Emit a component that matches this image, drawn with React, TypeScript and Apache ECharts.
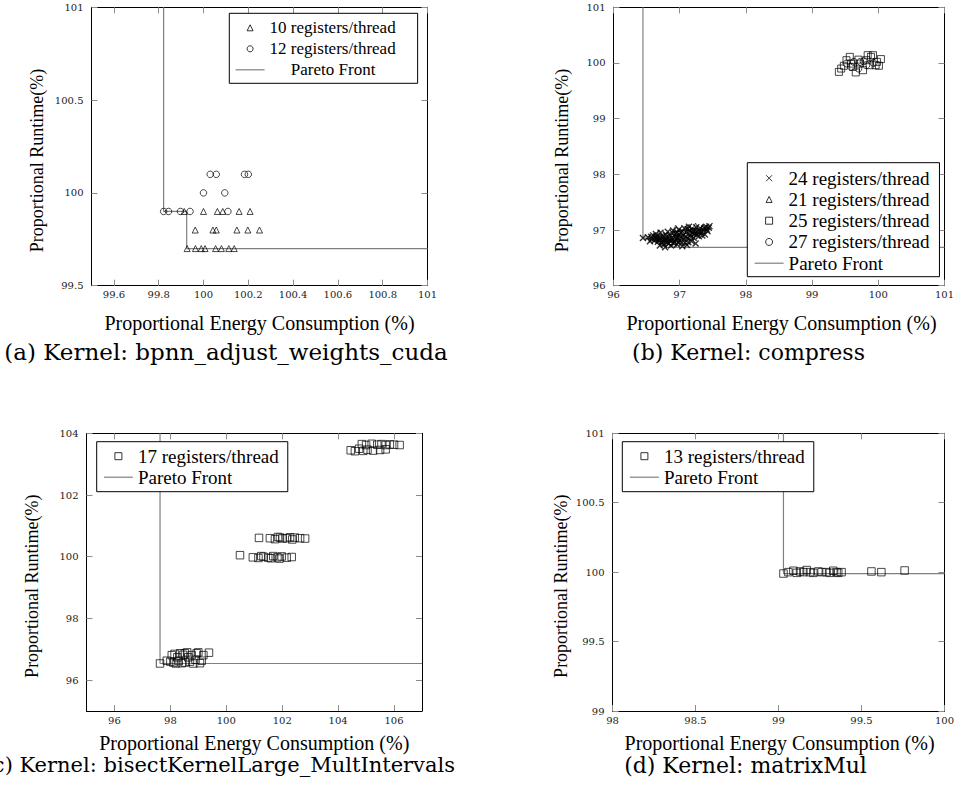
import React, { useEffect, useRef } from 'react';
import * as echarts from 'echarts';

const SERIF = '"Liberation Serif", "Times New Roman", serif';
const CM = '"DejaVu Serif", serif';
const PARETO = 'Pareto Front';
const X_TITLE = 'Proportional Energy Consumption (%)';
const Y_TITLE = 'Proportional Runtime(%)';
const CROSS = 'path://M0 0L10 10M10 0L0 10';

// ---------- (a) bpnn_adjust_weights_cuda ----------
const aXTicks = [99.6, 99.8, 100, 100.2, 100.4, 100.6, 100.8, 101];
const aYTicks = [99.5, 100, 100.5, 101];
const aReg10: number[][] = [
  [99.914, 99.9], [100.0, 99.9], [100.062, 99.9], [100.086, 99.9], [100.159, 99.9], [100.208, 99.9],
  [99.963, 99.8], [100.042, 99.8], [100.057, 99.8], [100.149, 99.8], [100.198, 99.8], [100.25, 99.8],
  [99.927, 99.7], [99.964, 99.7], [99.99, 99.7], [100.007, 99.7], [100.054, 99.7], [100.08, 99.7], [100.113, 99.7], [100.137, 99.7],
];
const aReg12: number[][] = [
  [100.03, 100.1], [100.057, 100.1], [100.183, 100.1], [100.2, 100.1],
  [100.0, 100.0], [100.095, 100.0],
  [99.822, 99.9], [99.844, 99.9], [99.897, 99.9], [99.94, 99.9], [100.109, 99.9],
];
const aPareto: number[][] = [[99.822, 101], [99.822, 99.9], [99.925, 99.9], [99.925, 99.7], [101, 99.7]];

// ---------- (b) compress ----------
const bXTicks = [96, 97, 98, 99, 100, 101];
const bYTicks = [96, 97, 98, 99, 100, 101];
const bReg24: number[][] = [
  [96.445, 96.856], [96.55, 96.8], [96.52, 96.87], [96.58, 96.84], [96.6, 96.9], [96.62, 96.81],
  [96.64, 96.93], [96.66, 96.85], [96.68, 96.82], [96.7, 96.72], [96.71, 96.95], [96.73, 96.78],
  [96.74, 96.88], [96.76, 96.74], [96.78, 96.69], [96.79, 96.92], [96.8, 96.83], [96.82, 96.97],
  [96.83, 96.76], [96.85, 96.9], [96.87, 96.72], [96.88, 96.86], [96.9, 96.99], [96.92, 96.79],
  [96.94, 96.93], [96.96, 96.74], [96.97, 96.87], [96.99, 97.01], [97.0, 96.81], [97.02, 96.95],
  [97.04, 96.71], [97.05, 96.9], [97.07, 97.03], [97.08, 96.77], [97.1, 96.96], [97.12, 96.85],
  [97.14, 97.06], [97.16, 96.91], [97.18, 96.8], [97.2, 97.0], [97.22, 96.93], [97.24, 96.76],
  [97.25, 97.05], [97.27, 96.97], [97.29, 96.89], [97.31, 97.03], [97.33, 96.95], [97.36, 97.0],
  [97.38, 96.92], [97.4, 97.06], [97.42, 96.98], [97.44, 97.04], [97.45, 97.07], [96.86, 96.8],
  [96.95, 96.84], [97.06, 96.84], [97.13, 96.78], [96.65, 96.89], [96.77, 96.81], [96.91, 96.76],
  [97.03, 96.77], [97.11, 96.73], [97.21, 96.86], [97.34, 96.9], [96.69, 96.86], [96.81, 96.78],
  [96.57, 96.88], [96.63, 96.86], [96.67, 96.79], [96.72, 96.84], [96.75, 96.8], [96.78, 96.86],
  [96.84, 96.84], [96.89, 96.82], [96.93, 96.88], [96.98, 96.78], [97.01, 96.88], [97.04, 96.98],
  [97.09, 96.88], [97.15, 96.99], [97.17, 96.87], [97.23, 96.99], [97.26, 96.91], [97.3, 96.98],
  [97.37, 97.03], [97.41, 97.01], [96.9, 96.94], [96.96, 96.96], [97.12, 97.02], [97.19, 96.95],
];
const bReg21: number[][] = [
  [96.69, 96.95], [96.84, 96.88], [96.94, 97.03], [97.01, 96.95], [97.09, 96.91], [97.14, 97.05],
  [97.24, 97.07], [97.29, 96.97], [96.96, 96.85], [96.87, 96.79], [96.76, 96.9], [97.18, 96.98],
  [97.35, 97.05],
];
const bReg25: number[][] = [
  [99.405, 99.84], [99.44, 99.9], [99.48, 99.95], [99.52, 100.05], [99.57, 100.11], [99.59, 99.99],
  [99.62, 99.93], [99.66, 99.83], [99.72, 99.99], [99.77, 99.87], [99.82, 100.05], [99.84, 100.14],
  [99.87, 99.96], [99.89, 100.11], [99.92, 100.14], [99.96, 99.96], [100.01, 99.95], [100.04, 100.07],
  [99.7, 100.06], [99.98, 100.02],
];
const bReg27: number[][] = [
  [99.52, 99.99], [99.59, 99.93], [99.63, 100.02], [99.7, 99.9], [99.73, 100.02], [99.82, 99.96],
  [99.93, 100.0], [99.78, 100.03],
];
const bPareto: number[][] = [
  [96.445, 101], [96.445, 96.856], [96.55, 96.856], [96.55, 96.8], [96.7, 96.8], [96.7, 96.72],
  [96.78, 96.72], [96.78, 96.69], [101, 96.69],
];

// ---------- (c) bisectKernelLarge_MultIntervals ----------
const cXTicks = [96, 98, 100, 102, 104, 106];
const cYTicks = [96, 98, 100, 102, 104];
const cReg17: number[][] = [
  [97.63, 96.54], [97.87, 96.63], [98.05, 96.81], [98.11, 96.57], [98.2, 96.54], [98.25, 96.74],
  [98.35, 96.87], [98.41, 96.55], [98.52, 96.57], [98.52, 96.87], [98.64, 96.74], [98.76, 96.81],
  [98.82, 96.54], [98.94, 96.87], [99.06, 96.55], [99.12, 96.63], [99.18, 96.81], [99.38, 96.89],
  [98.0, 96.6], [98.3, 96.62], [98.7, 96.6], [98.9, 96.66], [99.0, 96.9], [98.15, 96.85],
  [98.45, 96.82], [98.6, 96.9],
  [101.17, 100.61], [101.56, 100.6], [101.74, 100.57], [101.92, 100.62], [102.01, 100.59], [102.16, 100.6],
  [102.36, 100.56], [102.45, 100.62], [102.64, 100.6], [102.82, 100.59], [101.85, 100.64], [102.28, 100.63],
  [100.49, 100.05], [100.95, 99.98], [101.15, 99.96], [101.33, 100.0], [101.5, 99.97], [101.68, 100.02],
  [101.83, 99.98], [101.98, 100.01], [102.16, 99.97], [102.34, 99.99], [101.25, 100.02], [101.6, 99.95],
  [101.9, 99.94],
  [104.45, 103.45], [104.6, 103.42], [104.75, 103.5], [104.85, 103.65], [104.9, 103.43], [105.0, 103.62],
  [105.05, 103.47], [105.2, 103.66], [105.25, 103.44], [105.4, 103.63], [105.5, 103.46], [105.55, 103.65],
  [105.7, 103.62], [105.7, 103.48], [105.85, 103.64], [106.0, 103.63], [106.2, 103.62],
];
const cPareto: number[][] = [[97.63, 104], [97.63, 96.54], [107, 96.54]];

// ---------- (d) matrixMul ----------
const dXTicks = [98, 98.5, 99, 99.5, 100];
const dYTicks = [99, 99.5, 100, 100.5, 101];
const dReg13: number[][] = [
  [99.03, 99.99], [99.06, 100.0], [99.09, 100.01], [99.11, 99.995], [99.13, 100.005], [99.15, 100.0],
  [99.17, 100.015], [99.19, 100.0], [99.21, 99.995], [99.24, 100.005], [99.26, 100.0], [99.29, 100.0],
  [99.31, 99.995], [99.33, 100.01], [99.35, 100.0], [99.36, 99.995], [99.38, 100.0], [99.56, 100.005],
  [99.62, 100.0], [99.76, 100.012],
];
const dPareto: number[][] = [[99.03, 101], [99.03, 99.99], [100, 99.99]];

// legend icon paths: drawn inside a 29 x h box so that they keep their own size
const IW = 29;
function iconFor(kind: string, h: number, s: number): string {
  const cx = IW / 2;
  const cy = h / 2;
  const r = s / 2;
  const box = `M0 0M${IW} ${h}`;
  if (kind === 'triangle') return `path://${box}M${cx - r} ${cy + r}L${cx} ${cy - r}L${cx + r} ${cy + r}Z`;
  if (kind === 'rect') return `path://${box}M${cx - r} ${cy - r}L${cx + r} ${cy - r}L${cx + r} ${cy + r}L${cx - r} ${cy + r}Z`;
  if (kind === 'cross') return `path://${box}M${cx - r} ${cy - r}L${cx + r} ${cy + r}M${cx + r} ${cy - r}L${cx - r} ${cy + r}`;
  return 'circle';
}

type Sc = { name: string; data: number[][]; symbol: string; kind: string; size: number; bw: number };
type Panel = {
  rect: { left: number; top: number; width: number; height: number };
  x: [number, number, number[]];
  y: [number, number, number[]];
  yTitleX: number;
  xTitleY: number;
  scatters: Sc[];
  pareto: number[][];
  legend: any;
  caption: { text: string; x: number; y: number; align: string; size: number };
};

const panels: Panel[] = [
  {
    rect: { left: 91.5, top: 7.3, width: 336, height: 278.4 },
    x: [99.5, 101, aXTicks], y: [99.5, 101, aYTicks], yTitleX: 37, xTitleY: 323,
    scatters: [
      { name: '10 registers/thread', data: aReg10, symbol: 'triangle', kind: 'triangle', size: 6, bw: 0.9 },
      { name: '12 registers/thread', data: aReg12, symbol: 'circle', kind: 'circle', size: 6.5, bw: 0.9 },
    ],
    pareto: aPareto,
    legend: { left: 229.3, top: 13.3, padding: [6, 22, 5, 5.7], itemHeight: 6, itemGap: 4, fontSize: 17, centerPareto: true },
    caption: { text: '(a) Kernel: bpnn_adjust_weights_cuda', x: 226, y: 352, align: 'center', size: 23 },
  },
  {
    rect: { left: 613.5, top: 7.3, width: 336, height: 278.4 },
    x: [96, 101, bXTicks], y: [96, 101, bYTicks], yTitleX: 562, xTitleY: 323,
    scatters: [
      { name: '24 registers/thread', data: bReg24, symbol: CROSS, kind: 'cross', size: 6, bw: 1.4 },
      { name: '21 registers/thread', data: bReg21, symbol: 'triangle', kind: 'triangle', size: 6, bw: 0.9 },
      { name: '25 registers/thread', data: bReg25, symbol: 'rect', kind: 'rect', size: 7, bw: 0.9 },
      { name: '27 registers/thread', data: bReg27, symbol: 'circle', kind: 'circle', size: 7, bw: 0.9 },
    ],
    pareto: bPareto,
    legend: { left: 747.3, top: 162.7, padding: [6, 10, 4, 6.7], itemHeight: 7, itemGap: 2.25, fontSize: 19 },
    caption: { text: '(b) Kernel: compress', x: 748.5, y: 352, align: 'center', size: 22 },
  },
  {
    rect: { left: 86.5, top: 433.3, width: 335.5, height: 277.7 },
    x: [95, 107, cXTicks], y: [95, 104, cYTicks], yTitleX: 32, xTitleY: 743,
    scatters: [{ name: '17 registers/thread', data: cReg17, symbol: 'rect', kind: 'rect', size: 7.5, bw: 0.9 }],
    pareto: cPareto,
    legend: { left: 96.7, top: 441.7, padding: [5, 9, 5, 6.6], itemHeight: 7, itemGap: 2, fontSize: 19 },
    caption: { text: '(c) Kernel: bisectKernelLarge_MultIntervals', x: 455, y: 765, align: 'right', size: 21 },
  },
  {
    rect: { left: 612.5, top: 433.3, width: 334.2, height: 277.7 },
    x: [98, 100, dXTicks], y: [99, 101, dYTicks], yTitleX: 561, xTitleY: 743,
    scatters: [{ name: '13 registers/thread', data: dReg13, symbol: 'rect', kind: 'rect', size: 7.5, bw: 0.9 }],
    pareto: dPareto,
    legend: { left: 622.3, top: 441.7, padding: [5, 9, 5, 7], itemHeight: 7, itemGap: 2, fontSize: 19 },
    caption: { text: '(d) Kernel: matrixMul', x: 745.5, y: 765, align: 'center', size: 22 },
  },
];

function axisCommon(gridIndex: number, min: number, max: number, ticks: number[], position: string, labels: boolean) {
  return {
    type: 'value',
    gridIndex,
    min,
    max,
    position,
    axisLine: { show: true, onZero: false, lineStyle: { color: '#000', width: 1 } },
    axisTick: { show: true, inside: true, length: 6, lineStyle: { color: '#8c8c8c', width: 1 }, customValues: ticks },
    axisLabel: {
      show: labels,
      customValues: ticks,
      fontFamily: CM,
      fontSize: 10,
      color: '#222',
      margin: position === 'bottom' ? 4 : 8,
    },
    splitLine: { show: false },
  };
}

function textEl(text: string, x: number, y: number, font: string, size: number, align: string, rotation = 0) {
  return {
    type: 'text',
    x,
    y,
    rotation,
    silent: true,
    style: {
      text,
      fontFamily: font,
      fontSize: size,
      fill: '#000',
      align,
      textAlign: align,
      verticalAlign: 'middle',
      textVerticalAlign: 'middle',
    },
  };
}

function buildOption() {
  const grid: any[] = [];
  const xAxis: any[] = [];
  const yAxis: any[] = [];
  const series: any[] = [];
  const legend: any[] = [];
  const graphic: any[] = [];

  panels.forEach((p, g) => {
    grid.push({ ...p.rect, containLabel: false });
    xAxis.push(axisCommon(g, p.x[0], p.x[1], p.x[2], 'bottom', true));
    xAxis.push(axisCommon(g, p.x[0], p.x[1], p.x[2], 'top', false));
    yAxis.push(axisCommon(g, p.y[0], p.y[1], p.y[2], 'left', true));
    yAxis.push(axisCommon(g, p.y[0], p.y[1], p.y[2], 'right', false));

    series.push({
      type: 'line',
      name: PARETO,
      xAxisIndex: 2 * g,
      yAxisIndex: 2 * g,
      data: p.pareto,
      symbol: 'none',
      showSymbol: false,
      lineStyle: { color: '#808080', width: 1.2 },
      z: 1,
      silent: true,
    });
    p.scatters.forEach((s) => {
      series.push({
        type: 'scatter',
        name: s.name,
        xAxisIndex: 2 * g,
        yAxisIndex: 2 * g,
        data: s.data,
        symbol: s.symbol,
        symbolSize: s.size,
        itemStyle: { color: 'transparent', borderColor: '#000', borderWidth: s.bw },
        z: 2,
        silent: true,
      });
    });

    const L = p.legend;
    const pad = '\u00a0\u00a0\u00a0\u00a0\u00a0';
    legend.push({
      data: [
        ...p.scatters.map((s) => ({ name: s.name, icon: iconFor(s.kind, L.itemHeight, Math.min(s.size, L.itemHeight)) })),
        { name: PARETO, itemStyle: { color: 'transparent', borderColor: 'transparent', borderWidth: 0 } },
      ],
      formatter: (name: string) => (L.centerPareto && name === PARETO ? pad + name : name),
      orient: 'vertical',
      left: L.left,
      top: L.top,
      padding: L.padding,
      itemWidth: IW,
      itemHeight: L.itemHeight,
      itemGap: L.itemGap,
      symbolKeepAspect: true,
      selectedMode: false,
      backgroundColor: '#fff',
      borderColor: '#000',
      borderWidth: 1,
      borderRadius: 0,
      align: 'left',
      textStyle: { fontFamily: SERIF, fontSize: L.fontSize, lineHeight: L.fontSize, color: '#000' },
      itemStyle: { color: 'transparent', borderColor: '#000', borderWidth: 1 },
      lineStyle: { color: '#808080', width: 1.2 },
      z: 10,
    });

    const cx = p.rect.left + p.rect.width / 2;
    const cy = p.rect.top + p.rect.height / 2 + 14;
    graphic.push(textEl(X_TITLE, cx, p.xTitleY, SERIF, 20, 'center'));
    graphic.push(textEl(Y_TITLE, p.yTitleX, cy, SERIF, 18, 'center', Math.PI / 2));
    graphic.push(textEl(p.caption.text, p.caption.x, p.caption.y, CM, p.caption.size, p.caption.align));
  });

  return {
    animation: false,
    backgroundColor: '#fff',
    textStyle: { fontFamily: SERIF },
    grid,
    xAxis,
    yAxis,
    series,
    legend,
    graphic,
  };
}

export default function App() {
  const ref = useRef<HTMLDivElement>(null);
  useEffect(() => {
    if (!ref.current) return;
    const chart = echarts.init(ref.current, null, { renderer: 'svg' });
    chart.setOption(buildOption() as any);
    return () => chart.dispose();
  }, []);
  return (
    <div
      ref={ref}
      style={{ position: 'fixed', left: 0, top: 0, width: 957, height: 796, background: '#fff' }}
    />
  );
}
